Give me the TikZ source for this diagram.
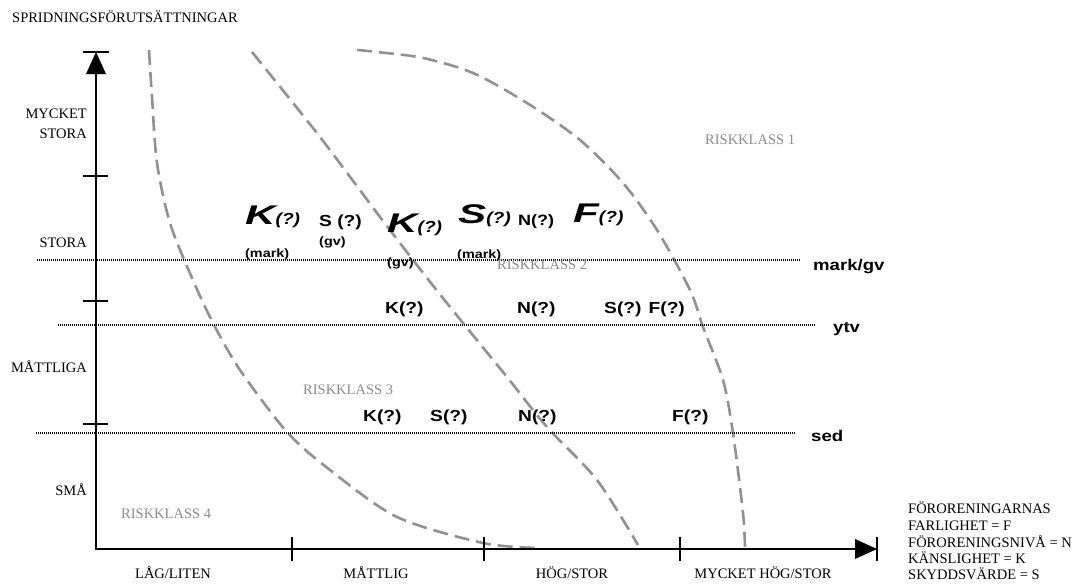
\documentclass[tikz,border=0pt]{standalone}
\usepackage{fontspec}
\setmainfont{Liberation Serif}
\newfontfamily\arialx[FakeStretch=1.2]{Liberation Sans}
\usepackage{graphicx}
\definecolor{riskgray}{RGB}{140,140,140}
\definecolor{curvegray}{RGB}{145,145,145}
\newcommand\bigq[1]{{\arialx\bfseries\itshape\fontsize{27}{30}\selectfont\scalebox{1.3}[1]{#1}\fontsize{16}{18}\selectfont(?)}}
\begin{document}
\begin{tikzpicture}[x=1pt,y=-1pt,
  serif/.style={font=\fontsize{14.5}{17}\selectfont, inner sep=0},
  risk/.style={serif, text=riskgray, anchor=base west},
  lab/.style={font=\arialx\bfseries\fontsize{16}{18}\selectfont, inner sep=0, anchor=base west},
  lvl/.style={font=\arialx\bfseries\fontsize{15.5}{18}\selectfont, inner sep=0, anchor=base west},
  sublab/.style={font=\arialx\bfseries\fontsize{12}{14}\selectfont, inner sep=0, anchor=base west},
  biglab/.style={inner sep=0, anchor=base west},
  curve/.style={draw=curvegray, line width=2.6pt, dash pattern=on 15pt off 7pt},
  level/.style={line width=1.1pt, dash pattern=on 1pt off 1pt},
  axis/.style={line width=2.8pt},
  tick/.style={line width=2.4pt},
]
\useasboundingbox (0,0) rectangle (1081,586);
\fill[white] (0,0) rectangle (1081,586);

% dashed risk-class boundaries
\draw[curve] plot[smooth] coordinates {(149,50) (152,97) (157,163) (170,223) (192,278) (213,323) (240,370) (287,432) (330,470) (397,517) (483,543) (537,548)};
\draw[curve] plot[smooth] coordinates {(252,52) (320,137) (380,217) (427,278) (463,323) (507,377) (547,427) (597,480) (638,545)};
\draw[curve] plot[smooth] coordinates {(357,50) (377,52) (423,58) (473,73) (527,103) (580,140) (623,183) (657,230) (690,290) (703,327) (723,380) (733,433) (743,513) (745,547)};

% level lines
\coordinate (mg0) at (37,260);  \coordinate (mg1) at (800,260);
\coordinate (yt0) at (58,325);  \coordinate (yt1) at (815,325);
\coordinate (sd0) at (36,433);  \coordinate (sd1) at (795,433);
\draw[level] (mg0) -- (mg1);
\draw[level] (yt0) -- (yt1);
\draw[level] (sd0) -- (sd1);
\node[lvl] (lmg) at (813,270) {mark/gv};
\node[lvl] (lyt) at (833,332) {ytv};
\node[lvl] (lsd) at (811,441) {sed};

% axes
\coordinate (O) at (96,549);
\draw[axis] (96,72) -- (O) -- (858,549);
\fill (96,52) -- (86,74) -- (106,74) -- cycle;
\draw[axis] (83,52) -- (109,52);
\fill (877,549) -- (855,539) -- (855,559) -- cycle;
\draw[axis] (877,537) -- (877,561);
\foreach \y in {176,301,424} \draw[tick] (83,\y) -- (108,\y);
\foreach \x in {292,484,680} \draw[tick] (\x,537) -- (\x,561);

% axis texts
\node[serif, anchor=base west] (title) at (12,23) {SPRIDNINGSFÖRUTSÄTTNINGAR};
\node[serif, anchor=base east] (ms1) at (87,118) {MYCKET};
\node[serif, anchor=base east] (ms2) at (87,138) {STORA};
\node[serif, anchor=base east] (st) at (87,247) {STORA};
\node[serif, anchor=base east] (mt) at (87,372) {MÅTTLIGA};
\node[serif, anchor=base east] (sm) at (87,495) {SMÅ};
\node[serif, anchor=base] (x1) at (173,578) {LÅG/LITEN};
\node[serif, anchor=base] (x2) at (376,578) {MÅTTLIG};
\node[serif, anchor=base] (x3) at (572,578) {HÖG/STOR};
\node[serif, anchor=base] (x4) at (763,578) {MYCKET HÖG/STOR};

% legend
\node[serif, anchor=base west] (lg1) at (908,513) {FÖRORENINGARNAS};
\node[serif, anchor=base west] (lg2) at (908,530) {FARLIGHET = F};
\node[serif, anchor=base west] (lg3) at (908,547) {FÖRORENINGSNIVÅ = N};
\node[serif, anchor=base west] (lg4) at (908,563) {KÄNSLIGHET = K};
\node[serif, anchor=base west] (lg5) at (908,579) {SKYDDSVÄRDE = S};

% risk classes
\node[risk] (r1) at (705,144) {RISKKLASS 1};
\node[risk] (r2) at (497,269) {RISKKLASS 2};
\node[risk] (r3) at (303,394) {RISKKLASS 3};
\node[risk] (r4) at (121,518) {RISKKLASS 4};

% row 1
\node[biglab] (k1) at (245,224) {\bigq{K}};
\node[sublab] (k1m) at (245,257) {(mark)};
\node[lab] (s1) at (319,226) {S (?)};
\node[sublab] (s1g) at (319,245) {(gv)};
\node[biglab] (k2) at (387,232) {\bigq{K}};
\node[sublab] (k2g) at (387,266) {(gv)};
\node[biglab] (s2) at (458,223) {\bigq{S}};
\node[sublab] (s2m) at (457,258) {(mark)};
\node[lab, font=\arialx\bfseries\fontsize{15}{18}\selectfont] (n1) at (518,225) {N(?)};
\node[biglab] (f1) at (573,222) {\bigq{F}};

% row 2
\node[lab] (k3) at (385,313) {K(?)};
\node[lab] (n2) at (517,313) {N(?)};
\node[lab] (sf2) at (604,313) {S(?) F(?)};

% row 3
\node[lab] (k4) at (363,421) {K(?)};
\node[lab] (s4) at (430,421) {S(?)};
\node[lab] (n4) at (518,421) {N(?)};
\node[lab] (f4) at (672,421) {F(?)};
\end{tikzpicture}
\end{document}
